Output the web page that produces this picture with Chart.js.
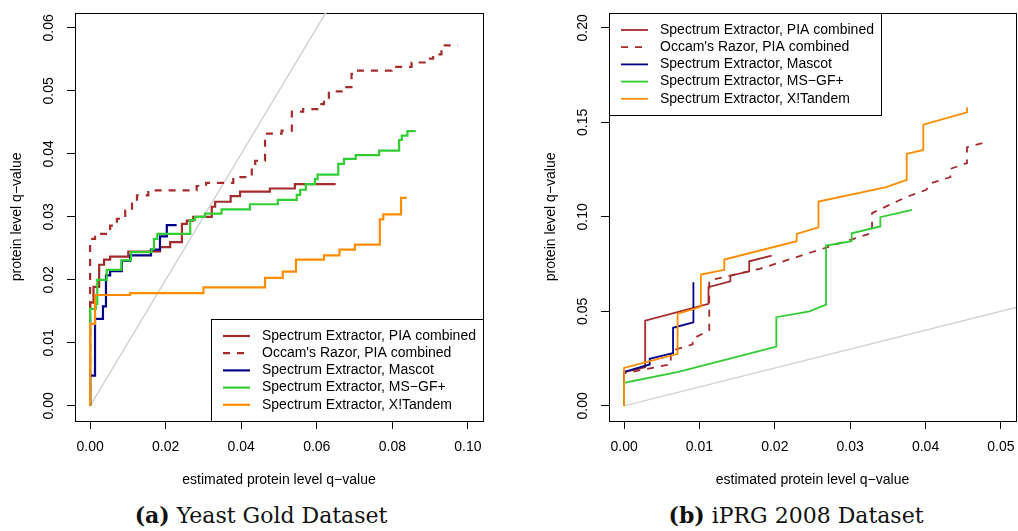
<!DOCTYPE html>
<html>
<head>
<meta charset="utf-8">
<script src="https://cdn.jsdelivr.net/npm/chart.js@4.4.0/dist/chart.umd.min.js"></script>
<style>
  html, body { margin: 0; padding: 0; background: #fff; }
  body { width: 1018px; height: 531px; position: relative; overflow: hidden; }
  canvas { position: absolute; top: 0; }
  #yeast { left: 0; }
  #iprg { left: 500px; }
  .caption {
    position: absolute; top: 500px; width: 420px; text-align: center;
    font-family: "DejaVu Serif", "Liberation Serif", serif; font-size: 22px;
    line-height: 30px; color: #111;
  }
</style>
</head>
<body>
<canvas id="yeast" width="500" height="500"></canvas>
<canvas id="iprg" width="518" height="500"></canvas>
<div class="caption" style="left:51px"><b>(a)</b> Yeast Gold Dataset</div>
<div class="caption" style="left:586px"><b>(b)</b> iPRG 2008 Dataset</div>

<script>
const SANS = '"Liberation Sans", Arial, Helvetica, sans-serif';

const seriesLabels = [
  "Spectrum Extractor, PIA combined",
  "Occam's Razor, PIA combined",
  "Spectrum Extractor, Mascot",
  "Spectrum Extractor, MS−GF+",
  "Spectrum Extractor, X!Tandem"
];

// y = x reference line
const diagX = [0, 1];
const diagY = [0, 1];

// Yeast Gold: step curves, x = point where the step happens, y = value after it
const yeastPiaX = [0, 0, 0.0009, 0.0024, 0.0037, 0.0053, 0.0101, 0.0185, 0.0212, 0.0243, 0.0256, 0.0273, 0.0322, 0.0331, 0.0372, 0.0397, 0.0476, 0.0542, 0.0650];
const yeastPiaY = [0, 0.0164, 0.0189, 0.0224, 0.0232, 0.0237, 0.0245, 0.0252, 0.0260, 0.0289, 0.0294, 0.0300, 0.0316, 0.0324, 0.0333, 0.0340, 0.0345, 0.0352, 0.0352];

const yeastOccamX = [0, 0, 0.0013, 0.0053, 0.0071, 0.0093, 0.0111, 0.0124, 0.0154, 0.0282, 0.0307, 0.0379, 0.0428, 0.0437, 0.0463, 0.0507, 0.0534, 0.0564, 0.0606, 0.0619, 0.0632, 0.0666, 0.0692, 0.0706, 0.0798, 0.0851, 0.0895, 0.0908, 0.0930, 0.0974];
const yeastOccamY = [0, 0.0265, 0.0273, 0.0286, 0.0297, 0.0310, 0.0321, 0.0334, 0.0342, 0.0349, 0.0354, 0.0363, 0.0375, 0.0389, 0.0432, 0.0437, 0.0467, 0.0471, 0.0479, 0.0487, 0.0499, 0.0506, 0.0527, 0.0532, 0.0538, 0.0545, 0.0551, 0.0558, 0.0572, 0.0572];

const yeastMascotX = [0, 0, 0.0013, 0.0034, 0.0042, 0.0053, 0.0084, 0.0106, 0.0161, 0.0185, 0.0203, 0.0229];
const yeastMascotY = [0, 0.0048, 0.0138, 0.0158, 0.0207, 0.0214, 0.0230, 0.0239, 0.0248, 0.0269, 0.0287, 0.0287];

const yeastMsgfX = [0, 0, 0.0015, 0.0019, 0.0044, 0.0083, 0.0108, 0.0163, 0.0169, 0.0178, 0.0265, 0.0278, 0.0304, 0.0348, 0.0423, 0.0497, 0.0547, 0.0556, 0.0571, 0.0595, 0.0602, 0.0657, 0.0672, 0.0703, 0.0765, 0.0818, 0.0825, 0.0840, 0.0862];
const yeastMsgfY = [0, 0.0154, 0.0162, 0.0200, 0.0216, 0.0231, 0.0244, 0.0249, 0.0265, 0.0273, 0.0295, 0.0300, 0.0305, 0.0312, 0.0320, 0.0327, 0.0335, 0.0343, 0.0352, 0.0360, 0.0367, 0.0384, 0.0392, 0.0398, 0.0405, 0.0422, 0.0429, 0.0436, 0.0436];

const yeastTandemX = [0, 0, 0.0013, 0.0106, 0.0300, 0.0463, 0.0510, 0.0545, 0.0619, 0.0660, 0.0701, 0.0767, 0.0776, 0.0823, 0.0838];
const yeastTandemY = [0, 0.0130, 0.0176, 0.0179, 0.0188, 0.0203, 0.0213, 0.0232, 0.0239, 0.0248, 0.0256, 0.0296, 0.0304, 0.0330, 0.0330];

// iPRG 2008: plain polylines
const iprgPiaX = [0, 0, 0.0028, 0.0028, 0.0112, 0.0112, 0.0141, 0.0141, 0.0166, 0.0166, 0.0196];
const iprgPiaY = [0, 0.0178, 0.0204, 0.0451, 0.0540, 0.0628, 0.0659, 0.0689, 0.0712, 0.0765, 0.0795];

const iprgOccamX = [0, 0, 0.0062, 0.0062, 0.0091, 0.0091, 0.0113, 0.0113, 0.0180, 0.0329, 0.0329, 0.0374, 0.0401, 0.0407, 0.0433, 0.0433, 0.0455, 0.0455, 0.0483];
const iprgOccamY = [0, 0.0172, 0.0220, 0.0290, 0.0325, 0.0355, 0.0400, 0.0663, 0.0725, 0.0915, 0.1020, 0.1104, 0.1143, 0.1178, 0.1210, 0.1254, 0.1284, 0.1368, 0.1398];

const iprgMascotX = [0, 0, 0.0034, 0.0034, 0.0065, 0.0065, 0.0092, 0.0092];
const iprgMascotY = [0, 0.0180, 0.0219, 0.0249, 0.0279, 0.0413, 0.0442, 0.0654];

const iprgMsgfX = [0, 0, 0.0072, 0.0161, 0.0202, 0.0202, 0.0246, 0.0268, 0.0268, 0.0302, 0.0302, 0.0340, 0.0340, 0.0382];
const iprgMsgfY = [0, 0.0122, 0.0180, 0.0271, 0.0314, 0.0469, 0.0500, 0.0536, 0.0848, 0.0871, 0.0913, 0.0949, 0.0998, 0.1037];

const iprgTandemX = [0, 0, 0.0071, 0.0071, 0.0102, 0.0102, 0.0133, 0.0133, 0.0229, 0.0229, 0.0258, 0.0258, 0.0348, 0.0375, 0.0375, 0.0397, 0.0397, 0.0455, 0.0455];
const iprgTandemY = [0, 0.0201, 0.0275, 0.0487, 0.0525, 0.0695, 0.0720, 0.0774, 0.0871, 0.0910, 0.0945, 0.1081, 0.1157, 0.1196, 0.1333, 0.1354, 0.1488, 0.1553, 0.1580];

// tick labels
const yeastXTicks = [0, 0.02, 0.04, 0.06, 0.08, 0.10];
const yeastYTicks = [0, 0.01, 0.02, 0.03, 0.04, 0.05, 0.06];
const iprgXTicks = [0, 0.01, 0.02, 0.03, 0.04, 0.05];
const iprgYTicks = [0, 0.05, 0.10, 0.15, 0.20];

const colors = ["#A52A2A", "#A52A2A", "#00008B", "#32CD32", "#FF8C00"];

Chart.defaults.font.family = SANS;
Chart.defaults.color = "#000";

function pts(xs, ys) {
  return xs.map((x, i) => ({ x: x, y: ys[i] }));
}

function buildSets(groups, width, stepped) {
  const sets = groups.map((g, i) => ({
    label: seriesLabels[i],
    data: pts(g[0], g[1]),
    borderColor: colors[i],
    borderWidth: width,
    borderDash: i === 1 ? [7, 7] : [],
    pointRadius: 0,
    fill: false,
    stepped: stepped,
    order: 4 - i          // orange ends up on top
  }));
  sets.push({
    data: pts(diagX, diagY),
    borderColor: "#D3D3D3",
    borderWidth: 1.5,
    pointRadius: 0,
    fill: false,
    order: 10
  });
  return sets;
}

// plot box around the chart area
const frame = {
  id: "frame",
  beforeDatasetsDraw(chart) {
    const a = chart.chartArea, ctx = chart.ctx;
    ctx.save();
    ctx.strokeStyle = "#000";
    ctx.lineWidth = 1;
    ctx.strokeRect(Math.round(a.left) + 0.5, Math.round(a.top) + 0.5,
      Math.round(a.right - a.left), Math.round(a.bottom - a.top));
    ctx.restore();
  }
};

// boxed key drawn inside the plot, R style
const keyBox = {
  id: "keyBox",
  afterDatasetsDraw(chart, args, opts) {
    const ctx = chart.ctx, a = chart.chartArea;
    const sets = chart.data.datasets.filter(d => d.label);
    ctx.save();
    ctx.font = "14px " + SANS;
    const textW = Math.max(...sets.map(d => ctx.measureText(d.label).width));
    const w = Math.round(51 + textW + 7);
    const h = Math.round(17 + (sets.length - 1) * 17.2 + 16);
    const x0 = opts.corner === "bottomright" ? Math.round(a.right) - w : Math.round(a.left);
    const y0 = opts.corner === "bottomright" ? Math.round(a.bottom) - h : Math.round(a.top);
    ctx.fillStyle = "#fff";
    ctx.fillRect(x0, y0, w, h);
    ctx.strokeStyle = "#000";
    ctx.lineWidth = 1;
    ctx.strokeRect(x0 + 0.5, y0 + 0.5, w, h);
    sets.forEach((d, i) => {
      const y = y0 + 17 + i * 17.2;
      ctx.strokeStyle = d.borderColor;
      ctx.lineWidth = d.borderWidth;
      ctx.setLineDash(d.borderDash || []);
      ctx.beginPath();
      ctx.moveTo(x0 + 12, y);
      ctx.lineTo(x0 + 39, y);
      ctx.stroke();
      ctx.setLineDash([]);
      ctx.fillStyle = "#000";
      ctx.textBaseline = "middle";
      ctx.fillText(d.label, x0 + 51, y);
    });
    ctx.restore();
  }
};

function axes(xTicks, yTicks, xRange, yRange, yWidth, yTitlePad) {
  const labelFont = { size: 14, family: SANS };
  // tall line height pushes the x labels down without tick padding
  // (tick padding would widen the right margin)
  const xTickFont = { size: 14, family: SANS, lineHeight: 36 / 14 };
  return {
    x: {
      type: "linear",
      position: "bottom",
      min: xRange[0],
      max: xRange[1],
      bounds: "data",
      afterBuildTicks: s => { s.ticks = xTicks.map(v => ({ value: v })); },
      afterFit: s => { s.height = 79; },
      grid: { drawOnChartArea: false, drawTicks: true, tickLength: 8, color: "#000", lineWidth: 1 },
      border: { display: false },
      ticks: { callback: v => v.toFixed(2), font: xTickFont, color: "#000", padding: 0, autoSkip: false, maxRotation: 0 },
      title: { display: true, text: "estimated protein level q−value", font: labelFont, color: "#000", padding: { top: 0, bottom: 11.6 } }
    },
    y: {
      type: "linear",
      position: "left",
      min: yRange[0],
      max: yRange[1],
      bounds: "data",
      afterBuildTicks: s => { s.ticks = yTicks.map(v => ({ value: v })); },
      afterFit: s => { s.width = yWidth; },
      grid: { drawOnChartArea: false, drawTicks: true, tickLength: 8, color: "#000", lineWidth: 1 },
      border: { display: false },
      ticks: { callback: v => v.toFixed(2), font: labelFont, color: "#000", padding: 4.3, autoSkip: false, minRotation: 90, maxRotation: 90, crossAlign: "center" },
      title: { display: true, text: "protein level q−value", font: labelFont, color: "#000", padding: { top: yTitlePad, bottom: 0 } }
    }
  };
}

function makeChart(id, sets, scales, rightPad, corner) {
  return new Chart(document.getElementById(id), {
    type: "line",
    data: { datasets: sets },
    options: {
      responsive: false,
      animation: false,
      devicePixelRatio: 1,
      layout: { autoPadding: false, padding: { top: 12, right: rightPad, bottom: 0, left: 0 } },
      scales: scales,
      plugins: {
        legend: { display: false },
        tooltip: { enabled: false },
        keyBox: { corner: corner }
      }
    },
    plugins: [frame, keyBox]
  });
}

makeChart("yeast",
  buildSets([
    [yeastPiaX, yeastPiaY],
    [yeastOccamX, yeastOccamY],
    [yeastMascotX, yeastMascotY],
    [yeastMsgfX, yeastMsgfY],
    [yeastTandemX, yeastTandemY]
  ], 2.2, "before"),
  axes(yeastXTicks, yeastYTicks, [-0.004, 0.104], [-0.0024, 0.0624], 75, 8.6),
  17, "bottomright");

makeChart("iprg",
  buildSets([
    [iprgPiaX, iprgPiaY],
    [iprgOccamX, iprgOccamY],
    [iprgMascotX, iprgMascotY],
    [iprgMsgfX, iprgMsgfY],
    [iprgTandemX, iprgTandemY]
  ], 1.8, false),
  axes(iprgXTicks, iprgYTicks, [-0.002, 0.052], [-0.008, 0.208], 109, 42.6),
  2, "topleft");
</script>
</body>
</html>
